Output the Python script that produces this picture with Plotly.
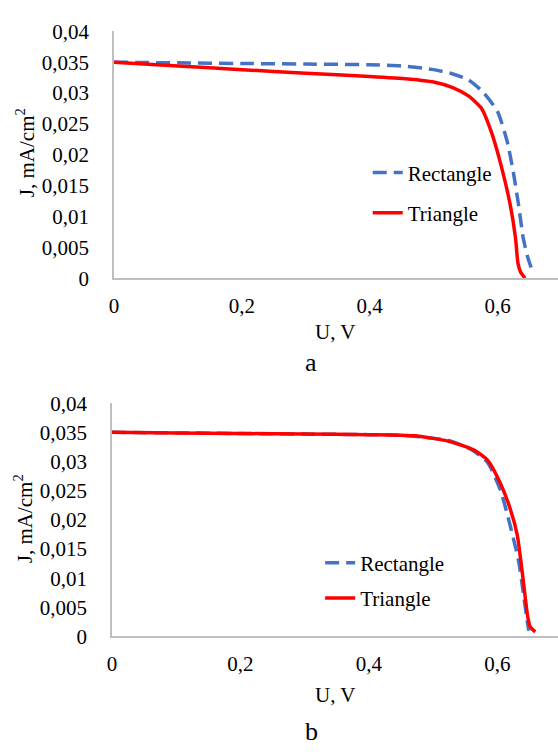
import plotly.graph_objects as go

# ---- data (chart a) ----
a_rect_u = [0, 0.1, 0.2, 0.3, 0.4, 0.45, 0.5, 0.53, 0.555, 0.578, 0.6, 0.615, 0.625, 0.633, 0.64, 0.647, 0.654]
a_rect_j = [0.0350, 0.0349, 0.0348, 0.0347, 0.0346, 0.0344, 0.0338, 0.0331, 0.0321, 0.0301, 0.0270, 0.0222, 0.0170, 0.0118, 0.0066, 0.0035, 0.0013]
a_tri_u = [0, 0.1, 0.2, 0.3, 0.4, 0.46, 0.5, 0.53, 0.555, 0.575, 0.59, 0.605, 0.62, 0.628, 0.632, 0.636, 0.643]
a_tri_j = [0.0350, 0.0344, 0.0338, 0.0332, 0.0327, 0.0323, 0.0318, 0.0309, 0.0295, 0.0275, 0.0238, 0.0185, 0.0118, 0.0066, 0.0024, 0.0010, 0.0000]

# ---- data (chart b) ----
b_rect_u = [0, 0.1, 0.2, 0.3, 0.4, 0.45, 0.5, 0.53, 0.56, 0.585, 0.605, 0.62, 0.633, 0.641, 0.646, 0.649]
b_rect_j = [0.0350, 0.0349, 0.0348, 0.0347, 0.0346, 0.0345, 0.0340, 0.0334, 0.0320, 0.0298, 0.0250, 0.0190, 0.0130, 0.0070, 0.0030, 0.0010]
b_tri_u = [0, 0.1, 0.2, 0.3, 0.4, 0.47, 0.523, 0.563, 0.585, 0.605, 0.62, 0.631, 0.639, 0.647, 0.651, 0.655, 0.659]
b_tri_j = [0.0350, 0.0349, 0.0348, 0.0347, 0.0346, 0.0344, 0.0335, 0.0320, 0.0302, 0.0262, 0.0219, 0.0174, 0.0108, 0.0036, 0.0017, 0.0012, 0.0008]

# ---- ticks ----
y_tickvals = [0, 0.005, 0.01, 0.015, 0.02, 0.025, 0.03, 0.035, 0.04]
y_ticktext = ["0", "0,005", "0,01", "0,015", "0,02", "0,025", "0,03", "0,035", "0,04"]
x_tickvals = [0, 0.2, 0.4, 0.6]
x_ticktext = ["0", "0,2", "0,4", "0,6"]

FONT = "Liberation Serif"
FS = 21
BLUE = "#4472C4"
RED = "#FF0000"
AXC = "#BFBFBF"

W, H = 558, 755

fig = go.Figure()

fig.add_trace(go.Scatter(x=a_rect_u, y=a_rect_j, mode="lines", name="Rectangle",
                         line=dict(color=BLUE, width=3.5, dash="14px,7px", shape="spline", smoothing=0.6),
                         xaxis="x", yaxis="y", legend="legend", legendgroup="r"))
fig.add_trace(go.Scatter(x=a_tri_u, y=a_tri_j, mode="lines", name="Triangle",
                         line=dict(color=RED, width=3.5, shape="spline", smoothing=0.6),
                         xaxis="x", yaxis="y", legend="legend", legendgroup="t"))
fig.add_trace(go.Scatter(x=b_rect_u, y=b_rect_j, mode="lines", name="Rectangle",
                         line=dict(color=BLUE, width=3.5, dash="14px,7px", shape="spline", smoothing=0.6),
                         xaxis="x2", yaxis="y2", legend="legend2", legendgroup="r2"))
fig.add_trace(go.Scatter(x=b_tri_u, y=b_tri_j, mode="lines", name="Triangle",
                         line=dict(color=RED, width=3.5, shape="spline", smoothing=0.6),
                         xaxis="x2", yaxis="y2", legend="legend2", legendgroup="t2"))

def xax(domain, anchor, rng):
    return dict(domain=domain, anchor=anchor, range=rng, tickvals=x_tickvals, ticktext=x_ticktext,
                showgrid=False, zeroline=False, showline=True, linecolor=AXC, linewidth=1.5,
                ticks="", ticklabelstandoff=8, tickfont=dict(family=FONT, size=FS, color="black"))

def yax(domain, anchor):
    return dict(domain=domain, anchor=anchor, range=[0, 0.04], tickvals=y_tickvals, ticktext=y_ticktext,
                showgrid=False, zeroline=False, showline=True, linecolor=AXC, linewidth=1.5,
                ticks="", ticklabelstandoff=19, tickfont=dict(family=FONT, size=FS, color="black"))

fig.update_layout(
    width=W, height=H,
    margin=dict(l=0, r=0, t=0, b=0),
    paper_bgcolor="white", plot_bgcolor="white",
    font=dict(family=FONT, size=FS, color="black"),
    xaxis=xax([110 / W, 1.0], "y", [0, (W - 110) / 645]),
    yaxis=yax([1 - 275 / H, 1 - 20 / H], "x"),
    xaxis2=xax([108 / W, 1.0], "y2", [0, (W - 108) / 648]),
    yaxis2=yax([1 - 645 / H, 1 - 404 / H], "x2"),
    legend=dict(x=366 / W, y=1 - 145 / H, xanchor="left", yanchor="top", bgcolor="rgba(0,0,0,0)",
                font=dict(family=FONT, size=FS), tracegroupgap=10, itemwidth=30),
    legend2=dict(x=318 / W, y=1 - 548 / H, xanchor="left", yanchor="top", bgcolor="rgba(0,0,0,0)",
                 font=dict(family=FONT, size=FS), tracegroupgap=5, itemwidth=30),
    showlegend=True,
)

annots = [
    dict(text="U, V", x=333 / W, y=1 - 330 / H, size=FS),
    dict(text="a", x=309 / W, y=1 - 362 / H, size=26),
    dict(text="U, V", x=333 / W, y=1 - 705 / H, size=FS),
    dict(text="b", x=309 / W, y=1 - 743 / H, size=26),
    dict(text="J, mA/cm<sup>2</sup>", x=21 / W, y=1 - 145 / H, textangle=-90, size=FS),
    dict(text="J, mA/cm<sup>2</sup>", x=19 / W, y=1 - 523 / H, textangle=-90, size=FS),
]
for a in annots:
    sz = a.pop("size")
    fig.add_annotation(xref="paper", yref="paper", showarrow=False, xanchor="center", yanchor="middle",
                       font=dict(family=FONT, size=sz, color="black"), **a)

fig.write_html("out.html")
